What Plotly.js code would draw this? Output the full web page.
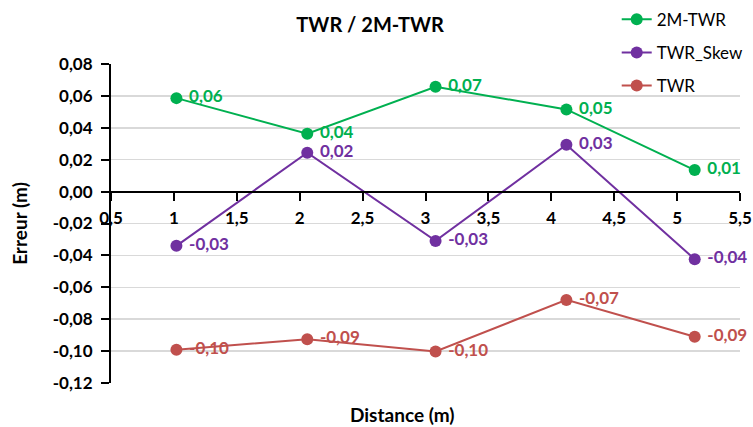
<!DOCTYPE html>
<html>
<head>
<meta charset="utf-8">
<script src="https://cdn.plot.ly/plotly-3.0.1.min.js"></script>
<style>html,body{margin:0;padding:0;background:#fff;}#chart{width:753px;height:427px;}</style>
</head>
<body>
<div id="chart"></div>
<script>
const distances2M = [1.02, 2.06, 3.08, 4.12, 5.14];
const distancesSkew = [1.02, 2.06, 3.08, 4.12, 5.14];
const distancesTWR = [1.02, 2.06, 3.08, 4.12, 5.14];
const err2M = [0.0586, 0.0363, 0.0657, 0.0515, 0.0135];
const errSkew = [-0.0340, 0.0244, -0.0309, 0.0294, -0.0424];
const errTWR = [-0.0991, -0.0925, -0.1002, -0.0679, -0.0910];
const seriesNames = ['2M-TWR', 'TWR_Skew', 'TWR'];
const yTickVals = [-0.12, -0.10, -0.08, -0.06, -0.04, -0.02, 0.00, 0.02, 0.04, 0.06, 0.08];
const yTickText = ['-0,12', '-0,10', '-0,08', '-0,06', '-0,04', '-0,02', '0,00', '0,02', '0,04', '0,06', '0,08'];

const fmt = v => ' ' + (Math.round(v * 100) / 100).toFixed(2).replace('.', ',');
const FONT = 'Lato, "Open Sans", sans-serif';

function mk(x, y, name, color) {
  return {
    x: x, y: y, name: name, type: 'scatter', mode: 'lines+markers+text',
    line: {color: color, width: 2},
    marker: {color: color, size: 12},
    text: y.map(fmt), textposition: 'middle right',
    textfont: {family: FONT, size: 17, color: color, weight: 'bold'},
    legendgroup: name, cliponaxis: false
  };
}

const data = [
  mk(distances2M, err2M, seriesNames[0], '#00B050'),
  mk(distancesSkew, errSkew, seriesNames[1], '#7030A0'),
  mk(distancesTWR, errTWR, seriesNames[2], '#C0504D')
];

const layout = {
  width: 753, height: 427,
  margin: {l: 111, r: 13, t: 64, b: 43.5, autoexpand: false},
  paper_bgcolor: '#fff', plot_bgcolor: '#fff',
  separators: ', ',
  font: {family: FONT, size: 17, color: '#000'},
  title: {text: '<b>TWR / 2M-TWR</b>', font: {family: FONT, size: 20, color: '#000'},
          x: 0.412, xref: 'paper', xanchor: 'center', y: 0.941, yref: 'container', yanchor: 'middle'},
  showlegend: true,
  legend: {x: 0.804, xanchor: 'left', y: 1.195, yanchor: 'top', traceorder: 'grouped',
           tracegroupgap: 8, font: {family: FONT, size: 17, color: '#000'}, bgcolor: 'rgba(0,0,0,0)'},
  xaxis: {range: [0.5, 5.5], dtick: 0.5, tick0: 0.5, tickmode: 'linear',
          anchor: 'free', position: 0.6, showline: true, linecolor: '#000', linewidth: 2,
          ticks: 'outside', ticklen: 8, tickwidth: 2, tickcolor: '#000', ticklabelstandoff: 3,
          showgrid: false, zeroline: false,
          tickfont: {family: FONT, size: 17, color: '#000', weight: 'bold'}},
  yaxis: {range: [-0.12, 0.08], tickmode: 'array', tickvals: yTickVals, ticktext: yTickText,
          showline: true, linecolor: '#000', linewidth: 2,
          ticks: 'outside', ticklen: 8, tickwidth: 2, tickcolor: '#000', ticklabelstandoff: 5,
          showgrid: true, gridcolor: '#D9D9D9', gridwidth: 1.5, zeroline: false,
          tickfont: {family: FONT, size: 17, color: '#000', weight: 'bold'}},
  annotations: [
    {text: '<b>Distance (m)</b>', xref: 'paper', yref: 'paper', x: 0.464, y: -0.1,
     xanchor: 'center', yanchor: 'middle', showarrow: false, font: {family: FONT, size: 19, color: '#000'}},
    {text: '<b>Erreur (m)</b>', xref: 'paper', yref: 'paper', x: -0.1447, y: 0.502, textangle: -90,
     xanchor: 'center', yanchor: 'middle', showarrow: false, font: {family: FONT, size: 19, color: '#000'}}
  ]
};

Plotly.newPlot('chart', data, layout, {displayModeBar: false, staticPlot: true});
</script>
</body>
</html>
